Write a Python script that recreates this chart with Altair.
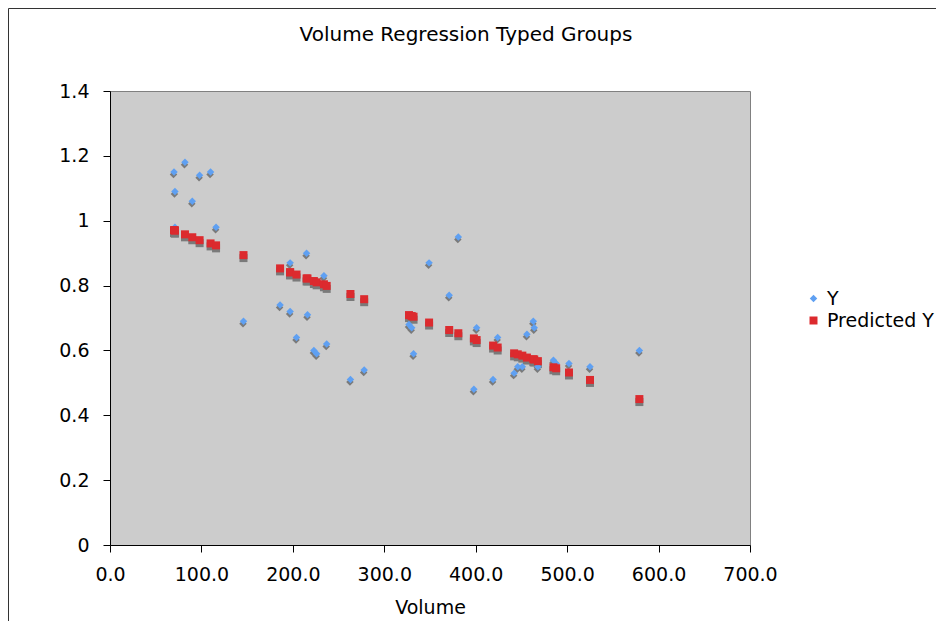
import altair as alt
import pandas as pd

volume = [70, 71, 71, 82, 90, 98, 110, 116, 146, 186, 197, 197, 204, 215, 216,
          223, 226, 234, 237, 263, 278, 327, 330, 332, 349, 371, 381, 398, 401,
          419, 424, 442, 446, 451, 456, 463, 464, 468, 485, 488, 502, 525, 579]
y_obs = [1.15, 1.09, 0.98, 1.18, 1.06, 1.14, 1.15, 0.98, 0.69, 0.74, 0.87, 0.72,
         0.64, 0.90, 0.71, 0.60, 0.59, 0.83, 0.62, 0.51, 0.54, 0.68, 0.67, 0.59,
         0.87, 0.77, 0.95, 0.48, 0.67, 0.51, 0.64, 0.53, 0.55, 0.55, 0.65, 0.69,
         0.67, 0.55, 0.57, 0.56, 0.56, 0.55, 0.60]
y_pred = [0.971, 0.970, 0.970, 0.958, 0.949, 0.940, 0.930, 0.924, 0.894, 0.853,
          0.841, 0.841, 0.834, 0.822, 0.822, 0.814, 0.810, 0.804, 0.799, 0.774,
          0.758, 0.709, 0.706, 0.704, 0.686, 0.663, 0.653, 0.637, 0.632, 0.615,
          0.609, 0.591, 0.588, 0.584, 0.578, 0.573, 0.572, 0.567, 0.548, 0.545,
          0.532, 0.509, 0.450]

series = ["Y", "Predicted Y"]
colors = ["#5FA0F2", "#DC2A2E"]
shapes = ["diamond", "square"]
title_text = "Volume Regression Typed Groups"

FONT = "DejaVu Sans"

df = pd.DataFrame({"Volume": volume, "Y": y_obs, "Predicted Y": y_pred})
long = df.melt(id_vars="Volume", value_vars=series, var_name="series", value_name="value")

x_enc = alt.X("Volume:Q", title="Volume",
              scale=alt.Scale(domain=[0, 700], nice=False),
              axis=alt.Axis(values=[0, 100, 200, 300, 400, 500, 600, 700], format=".1f",
                            labelFlush=False))
y_enc = alt.Y("value:Q", title=None,
              scale=alt.Scale(domain=[0, 1.4], nice=False),
              axis=alt.Axis(values=[0, 0.2, 0.4, 0.6, 0.8, 1, 1.2, 1.4], format=".1~f",
                            labelFlush=False))

legend = alt.Legend(title=None, orient="none", legendX=694, legendY=198)

base = alt.Chart(long)

shadow_y = base.transform_filter(alt.datum.series == "Y").mark_point(
    shape="diamond", filled=True, color="#7a7a7a", opacity=1, size=56, yOffset=2.5, xOffset=-0.5
).encode(x=x_enc, y=y_enc)
shadow_p = base.transform_filter(alt.datum.series == "Predicted Y").mark_point(
    shape="square", filled=True, color="#7a7a7a", opacity=1, size=64, yOffset=3
).encode(x=x_enc, y=y_enc)

points = base.mark_point(filled=True, opacity=1).encode(
    x=x_enc,
    y=y_enc,
    color=alt.Color("series:N", scale=alt.Scale(domain=series, range=colors), legend=legend),
    shape=alt.Shape("series:N", scale=alt.Scale(domain=series, range=shapes), legend=legend),
    size=alt.Size("series:N", legend=None, scale=alt.Scale(domain=series, range=[56, 64])),
)

# outer chart border and the title, placed relative to the plot area
frame = alt.Chart(alt.Data(values=[{}])).mark_rect(
    fill=None, stroke="#333333", strokeWidth=1
).encode(x=alt.value(-101.5), x2=alt.value(900), y=alt.value(-82.5), y2=alt.value(700))

title = alt.Chart(alt.Data(values=[{"t": title_text}])).mark_text(
    font=FONT, fontSize=20, color="#000000", align="center", baseline="middle"
).encode(x=alt.value(356), y=alt.value(-56), text="t:N")

chart = (
    alt.layer(frame, title, shadow_y, shadow_p, points)
    .properties(
        width=640,
        height=454,
        autosize=alt.AutoSizeParams(type="none"),
        padding={"left": 102, "top": 83, "right": 186, "bottom": 76},
    )
    .configure(font=FONT)
    .configure_view(fill="#CCCCCC", stroke="#808080", strokeWidth=1)
    .configure_axis(
        grid=False,
        domainColor="#000000",
        tickColor="#000000",
        tickSize=7,
        labelFont=FONT,
        labelFontSize=19,
        labelColor="#000000",
        titleFont=FONT,
        titleFontSize=19,
        titleFontWeight="normal",
        titleColor="#000000",
    )
    .configure_axisX(labelPadding=13, titlePadding=14)
    .configure_axisY(labelPadding=14)
    .configure_legend(
        labelFont=FONT,
        labelFontSize=19,
        labelColor="#000000",
        symbolSize=50,
        symbolStrokeWidth=0,
        rowPadding=2,
        labelOffset=4,
    )
)

chart.save("out.html", embed_options={"renderer": "svg", "actions": False})
